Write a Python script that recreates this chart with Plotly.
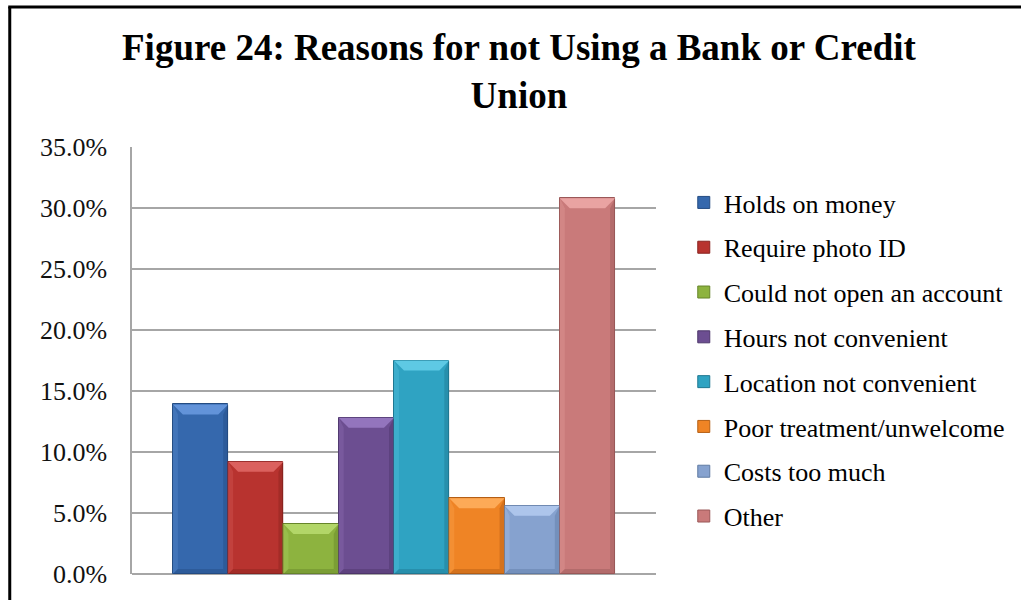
import plotly.graph_objects as go

# Survey responses: share of respondents giving each reason
reasons = [
    "Holds on money",
    "Require photo ID",
    "Could not open an account",
    "Hours not convenient",
    "Location not convenient",
    "Poor treatment/unwelcome",
    "Costs too much",
    "Other",
]
shares = [0.139, 0.092, 0.041, 0.128, 0.175, 0.062, 0.056, 0.308]
colors = ["#3568ad", "#b8332f", "#8db33f", "#6c4e91", "#2fa3c2", "#ef8425", "#86a2cf", "#c97a7a"]
lights = ["#6a9be0", "#e06a66", "#b8dc70", "#9a7cc4", "#66d0ea", "#ffb060", "#b4cbf0", "#eeaaa9"]
darks = ["#244c82", "#8a2320", "#66852a", "#4d366b", "#1f7892", "#b45e14", "#5f7aa3", "#9a5858"]
y_ticks = [0, 0.05, 0.10, 0.15, 0.20, 0.25, 0.30, 0.35]

SERIF = "Liberation Serif, Times New Roman, serif"

fig = go.Figure()
for i, (name, val, col, dk) in enumerate(zip(reasons, shares, colors, darks)):
    fig.add_trace(go.Bar(
        x=[i], y=[val], width=1, name=name,
        legendgroup=f"g{i}",
        marker=dict(color=col, line=dict(color=dk, width=1)),
        hovertemplate="%{y:.1%}<extra>" + name + "</extra>",
    ))

# Bevel highlights on each bar, derived from its position and value
plot_w_px, plot_h_px = 525, 427
x_lo, x_hi = -1.24, 8.24
y_hi = 0.35
dx = 10 * (x_hi - x_lo) / plot_w_px
dy = 10 * y_hi / plot_h_px
sx = 5 * (x_hi - x_lo) / plot_w_px
shapes = []
for i, (val, lt, dk) in enumerate(zip(shares, lights, darks)):
    l, r = i - 0.5, i + 0.5
    shapes.append(dict(
        type="path", xref="x", yref="y", layer="above", line=dict(width=0),
        fillcolor=lt, opacity=0.85,
        path=f"M{l},{val} L{r},{val} L{r-dx},{val-dy} L{l+dx},{val-dy} Z"))
    shapes.append(dict(
        type="path", xref="x", yref="y", layer="above", line=dict(width=0),
        fillcolor=dk, opacity=0.45,
        path=f"M{r},{val} L{r},0 L{r-sx},{dy*0.5} L{r-sx},{val-dy} Z"))
    shapes.append(dict(
        type="path", xref="x", yref="y", layer="above", line=dict(width=0),
        fillcolor=lt, opacity=0.25,
        path=f"M{l},{val} L{l},0 L{l+sx},{dy*0.5} L{l+sx},{val-dy} Z"))
    shapes.append(dict(
        type="path", xref="x", yref="y", layer="above", line=dict(width=0),
        fillcolor=dk, opacity=0.45,
        path=f"M{l},0 L{r},0 L{r-sx},{dy*0.5} L{l+sx},{dy*0.5} Z"))

# Outer frame: left and top rules of the chart box
shapes.append(dict(type="line", xref="paper", yref="paper",
                   x0=-0.2333, x1=-0.2333, y0=-0.2, y1=1.3279,
                   line=dict(color="black", width=3)))
shapes.append(dict(type="line", xref="paper", yref="paper",
                   x0=-0.2362, x1=1.75, y0=1.3279, y1=1.3279,
                   line=dict(color="black", width=3)))

fig.update_layout(
    width=1021, height=600,
    margin=dict(l=132, r=364, t=147, b=26),
    paper_bgcolor="white", plot_bgcolor="white",
    barmode="overlay", bargap=0,
    font=dict(family=SERIF, color="black"),
    showlegend=True,
    legend=dict(
        x=1.051, xanchor="left", y=0.925, yanchor="top",
        font=dict(family=SERIF, size=26, color="black"),
        traceorder="grouped", tracegroupgap=8,
        bgcolor="rgba(0,0,0,0)",
    ),
    xaxis=dict(range=[x_lo, x_hi], showticklabels=False, showgrid=False,
               zeroline=False, showline=False, fixedrange=True),
    yaxis=dict(range=[0, y_hi], tickvals=y_ticks, tickformat=".1%",
               showgrid=True, gridcolor="#a6a6a6", gridwidth=1.5,
               zeroline=True, zerolinecolor="#a6a6a6", zerolinewidth=1.5,
               showline=True, linecolor="#a6a6a6", linewidth=1.5,
               ticks="", ticklabelstandoff=18,
               tickfont=dict(family=SERIF, size=26, color="#111111")),
    shapes=shapes,
    annotations=[dict(
        text="<b>Figure 24: Reasons for not Using a Bank or Credit<br>Union</b>",
        xref="paper", yref="paper", x=0.739, y=1.285,
        xanchor="center", yanchor="top", showarrow=False,
        font=dict(family=SERIF, size=37, color="black"),
    )],
)

fig.write_html("out.html")
